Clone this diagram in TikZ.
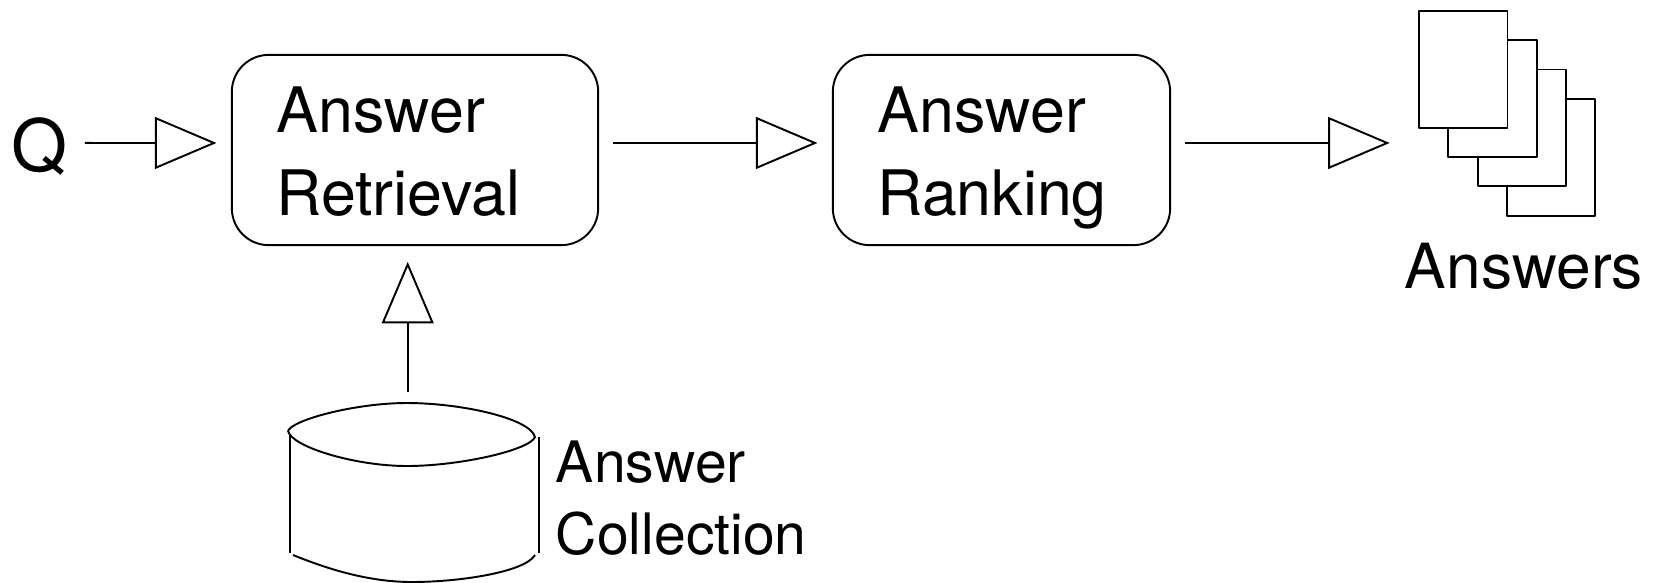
\documentclass[tikz,border=0pt]{standalone}
\usepackage{fontspec}
\setmainfont{TeX Gyre Heros}
\usetikzlibrary{arrows.meta}

\tikzset{
  box/.style={draw, rounded corners=21pt, minimum height=108.3pt, inner xsep=25.5pt, inner ysep=0pt, align=left, text height=30pt, text depth=50.4pt, font=\fontsize{35.7}{47.6}\selectfont},
  page/.style={draw, fill=white, minimum width=50.3pt, minimum height=66.5pt},
  flow/.style={-{Triangle[open, length=35pt, width=29.5pt]}},
}

\begin{document}
\begin{tikzpicture}[x=0.02cm, y=-0.02cm, line width=1.1pt, line join=round]
\useasboundingbox (0,0) rectangle (1656,582);

\node[box, text width=157.5pt] (retrieval) at (415,150) {Answer\\Retrieval};
\node[box, text width=141pt] (ranking) at (1001.5,150) {Answer\\Ranking};
\node[font=\fontsize{41}{41}\selectfont, inner sep=0pt] (q) at (40,147) {Q};

% pages, back to front
\foreach \i in {3,2,1,0} {
  \node[page] (page\i) at (1463.3+29.3*\i, 69.3+29.3*\i) {};
}
\node[font=\fontsize{35.4}{35.4}\selectfont, inner sep=0pt, anchor=base] (answers) at (1524,288) {Answers};

% collection
\draw (288,431) .. controls (292,420) and (355,403) .. (407,403) .. controls (460,403) and (530,418) .. (535,437) .. controls (530,450) and (460,466) .. (407,466) .. controls (355,466) and (292,447) .. (288,431);
\draw (290,435) -- (290,553);
\draw (539,437) -- (539,553);
\draw (293,555) .. controls (330,570) and (370,582) .. (412,582) .. controls (460,582) and (525,572) .. (535,555);
\coordinate (collection) at (407.7,403);
\node[font=\fontsize{32.5}{40.8}\selectfont, inner sep=0pt, align=left, anchor=west] (collectionlabel) at (555,498) {Answer\\Collection};

\draw[flow, shorten <=9pt, shorten >=8.2pt] ([yshift=2.3pt]q.east) -- ([yshift=4pt]retrieval.west);
\draw[flow, shorten <=8pt, shorten >=8.2pt] ([yshift=4pt]retrieval.east) -- ([yshift=4pt]ranking.west);
\draw[flow, shorten <=8pt, shorten >=16.2pt] ([yshift=4pt]ranking.east) -- ([yshift=4pt]ranking.east -| page0.west);
\draw[flow, shorten <=6.4pt, shorten >=9pt] (collection) -- (collection |- retrieval.south);
\end{tikzpicture}
\end{document}
